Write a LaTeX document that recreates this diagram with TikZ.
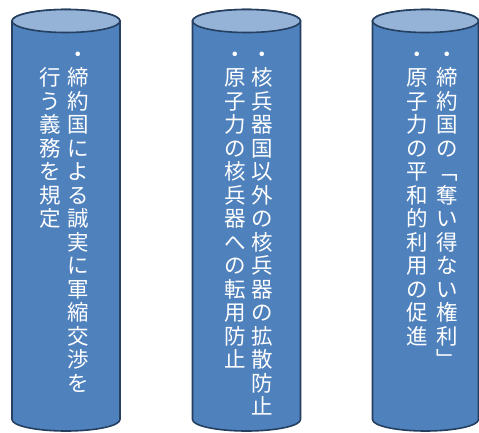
\documentclass[tikz,border=0pt]{standalone}
\usepackage{fontspec}
\newfontfamily\jpfont{Noto Sans CJK JP}
\definecolor{cylfill}{HTML}{4F81BD}
\definecolor{cyltop}{HTML}{95B3D7}
\definecolor{cylline}{HTML}{243F60}
\newcommand\vcolumn[1]{\vbox{\jpfont\fontsize{21.5pt}{23.5pt}\selectfont\baselineskip=23.5pt\lineskip=0pt\lineskiplimit=-1000pt\vcolstep#1\relax}}
\def\vcolstep#1{\ifx\relax#1\else\hbox to 24pt{\hss\vrule height 0.88em depth 0.12em width 0pt\relax #1\hss}\expandafter\vcolstep\fi}
\tikzset{
  cylbody/.style={fill=cylfill, draw=cylline, line width=1.6pt, line join=round},
  cyltopst/.style={fill=cyltop, draw=cylline, line width=1.6pt},
  vcol/.style={anchor=north, inner sep=0pt, outer sep=0pt, text=white}
}
\newcommand\cylinderat[2]{%
  \path[cylbody] ({#1-#2},411) -- ({#1-#2},12.5)
    arc[start angle=180, end angle=360, x radius=#2, y radius=11.5]
    -- ({#1+#2},411)
    arc[start angle=0, end angle=180, x radius=#2, y radius=11.5] -- cycle;
  \path[cyltopst] (#1,411) ellipse[x radius=#2, y radius=11.5];
}
\begin{document}
\begin{tikzpicture}[x=1pt,y=1pt]
\useasboundingbox (0,0) rectangle (479,432);
\cylinderat{66}{54}
\cylinderat{246.5}{54}
\cylinderat{425.5}{53}
% cylinder 1
\node[vcol] (c1a) at (78,388.75) {\vcolumn{・締約国による誠実に軍縮交渉を}};
\node[vcol] (c1b) at (50,365.25) {\vcolumn{行う義務を規定}};
% cylinder 2
\node[vcol] (c2a) at (262,388.75) {\vcolumn{・核兵器国以外の核兵器の拡散防止}};
\node[vcol] (c2b) at (235,388.75) {\vcolumn{・原子力の核兵器への転用防止}};
% cylinder 3
\node[vcol] (c3a) at (447,388.75) {\vcolumn{・締約国の﹁奪い得ない権利﹂}};
\node[vcol] (c3b) at (417,388.75) {\vcolumn{・原子力の平和的利用の促進}};
\end{tikzpicture}
\end{document}
